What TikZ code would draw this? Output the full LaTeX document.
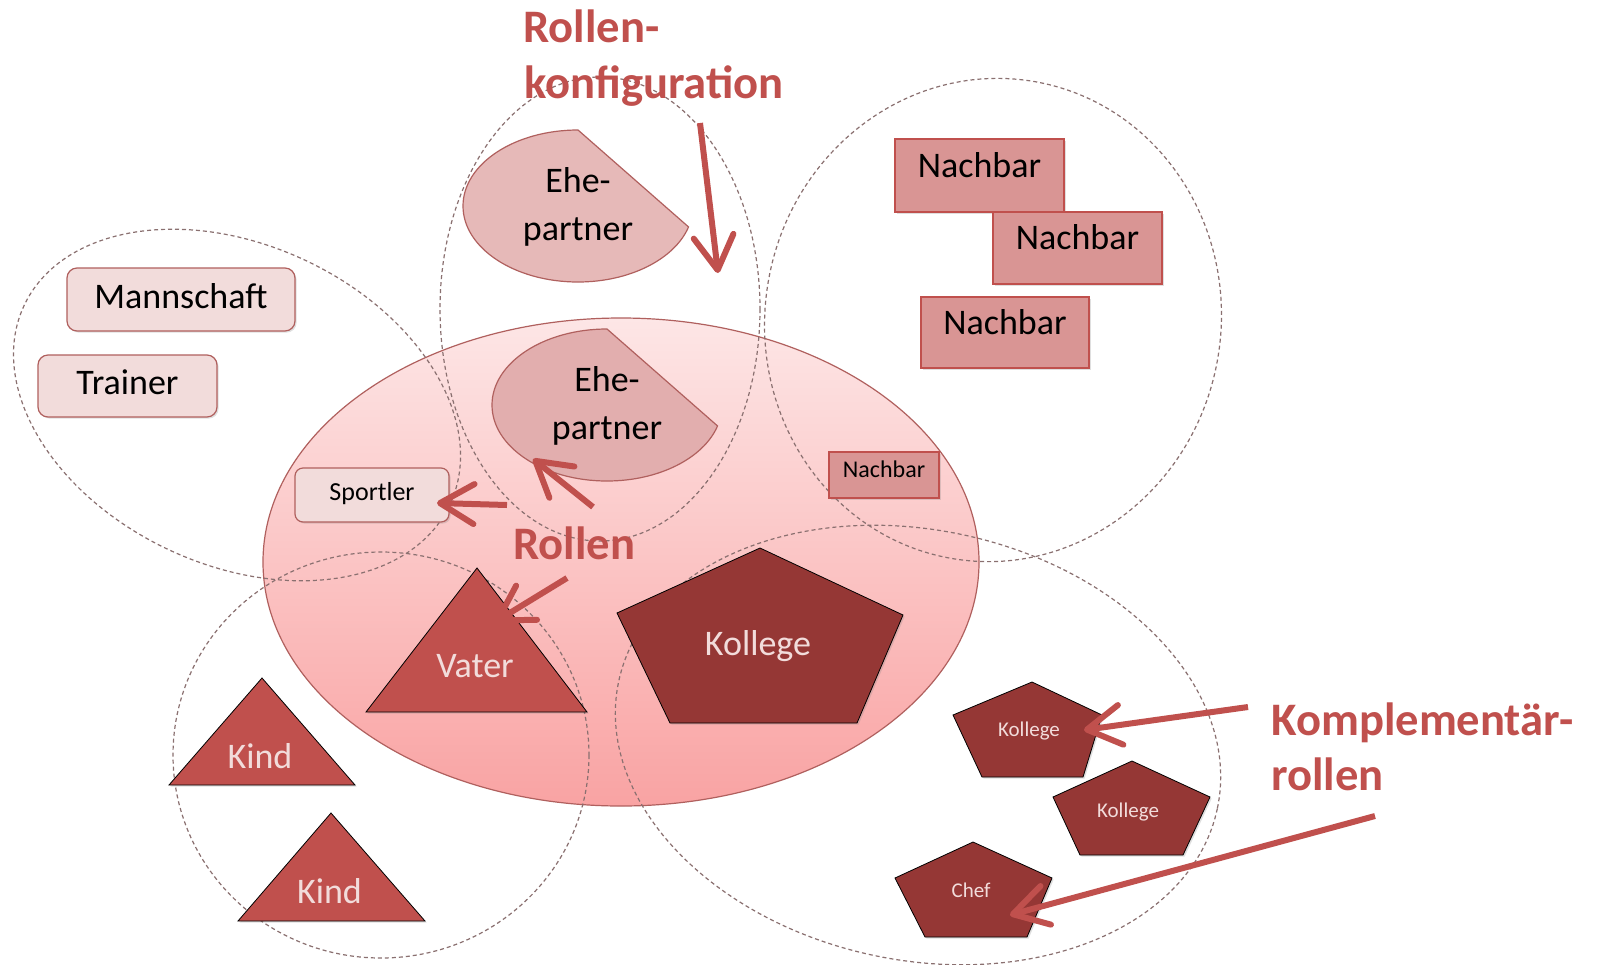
\documentclass[tikz,border=0pt]{standalone}
\usepackage{fontspec}
\setmainfont{Carlito}
\usetikzlibrary{arrows.meta,shadows}
\definecolor{accent}{HTML}{C0504D}
\definecolor{darkred}{HTML}{953735}
\definecolor{ltxt}{HTML}{F2DCDB}
\definecolor{dashc}{HTML}{8A7070}
\definecolor{ellbord}{HTML}{B0605E}
\definecolor{ellTop}{HTML}{FDE6E6}
\definecolor{ellBot}{HTML}{F9A3A3}
\definecolor{nachfill}{HTML}{D99594}
\definecolor{rndfill}{HTML}{F2DCDB}
\definecolor{ehefill}{HTML}{E6B9B8}
\definecolor{ehefillb}{HTML}{E2AEAE}
\tikzset{
  grp/.style={draw=dashc, line width=0.6pt, dash pattern=on 2pt off 1.5pt},
  shad/.style={drop shadow={shadow xshift=0.8pt, shadow yshift=-0.8pt, opacity=0.25}},
  roundbox/.style={draw=ellbord, fill=rndfill, rounded corners=5pt, line width=0.6pt, inner sep=0pt, shad, font=\fontsize{18}{22}\selectfont, text height=12pt, text depth=3.5pt},
  nachbox/.style={draw=accent, fill=nachfill, line width=0.6pt, inner sep=0pt, shad, font=\fontsize{18}{22}\selectfont, text height=9pt, text depth=7.5pt},
  triang/.style={fill=accent, shad},
  penta/.style={fill=darkred, shad},
  ehe/.style={draw=ellbord, fill=ehefill, line width=0.6pt},
  shapetxt/.style={text=ltxt, inner sep=0pt, anchor=base, font=\fontsize{18}{22}\selectfont},
  smalltxt/.style={text=ltxt, inner sep=0pt, anchor=base, font=\fontsize{10.5}{12}\selectfont},
  ehetxt/.style={align=center, inner sep=0pt, font=\fontsize{18}{24}\selectfont},
  lbl/.style={text=accent, inner sep=0pt, anchor=base west, font=\fontsize{23.3}{28}\selectfont\bfseries},
  arr/.style={draw=accent, line width=3pt, -{Straight Barb[length=17pt, width=20pt, round]}}
}
\begin{document}
\begin{tikzpicture}[x=0.5pt,y=-0.5pt]
\useasboundingbox (0,0) rectangle (1599,964);
\fill[white] (0,0) rectangle (1599,964);

% central ellipse
\draw[draw=ellbord, line width=0.6pt, top color=ellTop, bottom color=ellBot] (621,562) ellipse [x radius=358, y radius=244];

% dashed groups
\draw[grp, rotate around={-25:(237,405)}] (237,405) ellipse [x radius=235, y radius=160];
\draw[grp] (600,309) ellipse [x radius=160, y radius=232];
\draw[grp, rotate around={-10:(993,320)}] (993,320) ellipse [x radius=228, y radius=242];
\draw[grp] (381,755) ellipse [x radius=208, y radius=203];
\draw[grp, rotate around={-12:(918,745)}] (918,745) ellipse [x radius=306, y radius=215];

% Ehepartner shapes
\draw[ehe] (578,130) arc[start angle=-90, end angle=-344, x radius=115, y radius=76] -- cycle;
\node[ehetxt] (ehe1) at (578,207) {Ehe-\\partner};
\draw[ehe, fill=ehefillb] (607,329) arc[start angle=-90, end angle=-344, x radius=115, y radius=76] -- cycle;
\node[ehetxt] (ehe2) at (607,406) {Ehe-\\partner};

% Nachbar boxes
\node[nachbox, minimum width=84.5pt, minimum height=36.5pt] (n1) at (979.5,175.5) {Nachbar};
\node[nachbox, minimum width=84.5pt, minimum height=36pt] (n2) at (1077.5,248) {Nachbar};
\node[nachbox, minimum width=84pt, minimum height=35.5pt] (n3) at (1005,332.5) {Nachbar};
\node[nachbox, minimum width=55pt, minimum height=23pt, font=\fontsize{12}{14}\selectfont, text height=6pt, text depth=4pt] (n4) at (884,475) {Nachbar};

% Sport boxes
\node[roundbox, minimum width=114pt, minimum height=31.5pt] (mann) at (181,299.5) {Mannschaft};
\node[roundbox, minimum width=89.5pt, minimum height=31pt] (trainer) at (127.5,386) {Trainer};
\node[roundbox, minimum width=77pt, minimum height=27pt, rounded corners=4pt, font=\fontsize{13}{15}\selectfont, text height=8pt, text depth=3pt] (sportler) at (372,495) {Sportler};

% triangles
\draw[triang] (477,568) -- (587,712) -- (366,712) -- cycle;
\node[shapetxt] (vater) at (475,677) {Vater};
\draw[triang] (262,678) -- (355,785) -- (169,785) -- cycle;
\node[shapetxt] (kind1) at (260,768) {Kind};
\draw[triang] (331,813) -- (425,921) -- (238,921) -- cycle;
\node[shapetxt] (kind2) at (329.5,903) {Kind};

% pentagons
\draw[penta] (760,548) -- (903,615) -- (857,723) -- (670,723) -- (617,613) -- cycle;
\node[shapetxt] (kollege) at (758,655) {Kollege};
\draw[penta] (1032,682) -- (1102,715) -- (1083,777) -- (982,777) -- (953,715) -- cycle;
\node[smalltxt] (koll1) at (1029,736) {Kollege};
\draw[penta] (1132,761) -- (1210,797) -- (1183,855) -- (1080,855) -- (1053,797) -- cycle;
\node[smalltxt] (koll2) at (1128,817) {Kollege};
\draw[penta] (973,842) -- (1052,878) -- (1027,937) -- (925,937) -- (895,878) -- cycle;
\node[smalltxt] (chef) at (971,897) {Chef};

% labels
\node[lbl] (rk1) at (523,42) {Rollen-};
\node[lbl] (rk2) at (524,98) {konfiguration};
\node[lbl] (rollen) at (513,559) {Rollen};
\node[lbl] (kr1) at (1271,735) {Komplementär-};
\node[lbl] (kr2) at (1271,790) {rollen};

% arrow ends
\coordinate (a1t) at (700,123); \coordinate (a1h) at (718,273);
\coordinate (a2t) at (507,505); \coordinate (a2h) at (437,503);
\coordinate (a3t) at (593,507); \coordinate (a3h) at (533,459);
\coordinate (a4t) at (567,578); \coordinate (a4h) at (495,622);
\coordinate (a5t) at (1248,707); \coordinate (a5h) at (1084,730);
\coordinate (a6t) at (1375,816); \coordinate (a6h) at (1010,915);
\draw[arr] (a1t) -- (a1h);
\draw[arr] (a2t) -- (a2h);
\draw[arr] (a3t) -- (a3h);
\draw[arr] (a4t) -- (a4h);
\draw[arr] (a5t) -- (a5h);
\draw[arr] (a6t) -- (a6h);
\end{tikzpicture}
\end{document}
